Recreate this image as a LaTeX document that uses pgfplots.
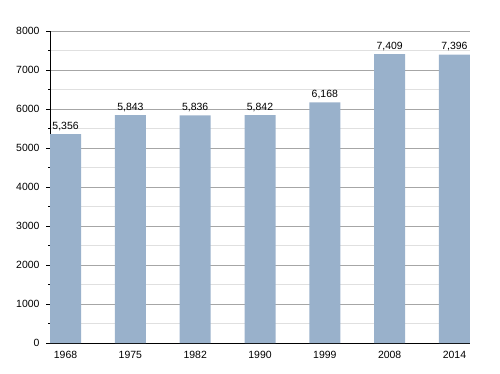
\documentclass[border=0pt]{standalone}
\usepackage{fontspec}
\setmainfont{Liberation Sans}
\usepackage{pgfplots}
\pgfplotsset{compat=1.18}
\definecolor{barc}{HTML}{99B1CB}
\begin{document}
\begin{tikzpicture}[x=1bp,y=1bp]
\path[use as bounding box] (0,0) rectangle (500,373);
\begin{axis}[
  at={(50bp,30bp)}, anchor=south west,
  scale only axis, width=420bp, height=312bp,
  xmin=-0.24, xmax=6.24, ymin=0, ymax=8000,
  axis x line*=bottom, axis y line*=left,
  axis line style={black, line width=0.8bp},
  xtick=data, xticklabels={1968,1975,1982,1990,1999,2008,2014},
  x tick style={draw=none},
  ytick={0,1000,...,8000}, minor ytick={500,1500,...,7500},
  tick align=outside,
  major tick length=4bp, minor tick length=2bp,
  y tick style={black, line width=0.6bp},
  ymajorgrids, yminorgrids,
  major grid style={draw=black!35, line width=0.6bp},
  minor grid style={draw=black!12, line width=0.6bp},
  yticklabel style={/pgf/number format/1000 sep={}, xshift=-3bp},
  xticklabel style={yshift=-1bp},
  /pgf/number format/assume math mode=true,
  ticklabel style={font=\fontsize{10.5}{12}\selectfont},
  ybar, bar width=31bp,
  nodes near coords={\pgfmathprintnumber[1000 sep={,}]{\pgfplotspointmeta}},
  every node near coord/.append style={font=\fontsize{10.5}{12}\selectfont, black, /pgf/number format/assume math mode=true},
  clip=false,
]
\addplot[fill=barc, draw=none] coordinates {(0,5356) (1,5843) (2,5836) (3,5842) (4,6168) (5,7409) (6,7396)};
\end{axis}
\end{tikzpicture}
\end{document}
